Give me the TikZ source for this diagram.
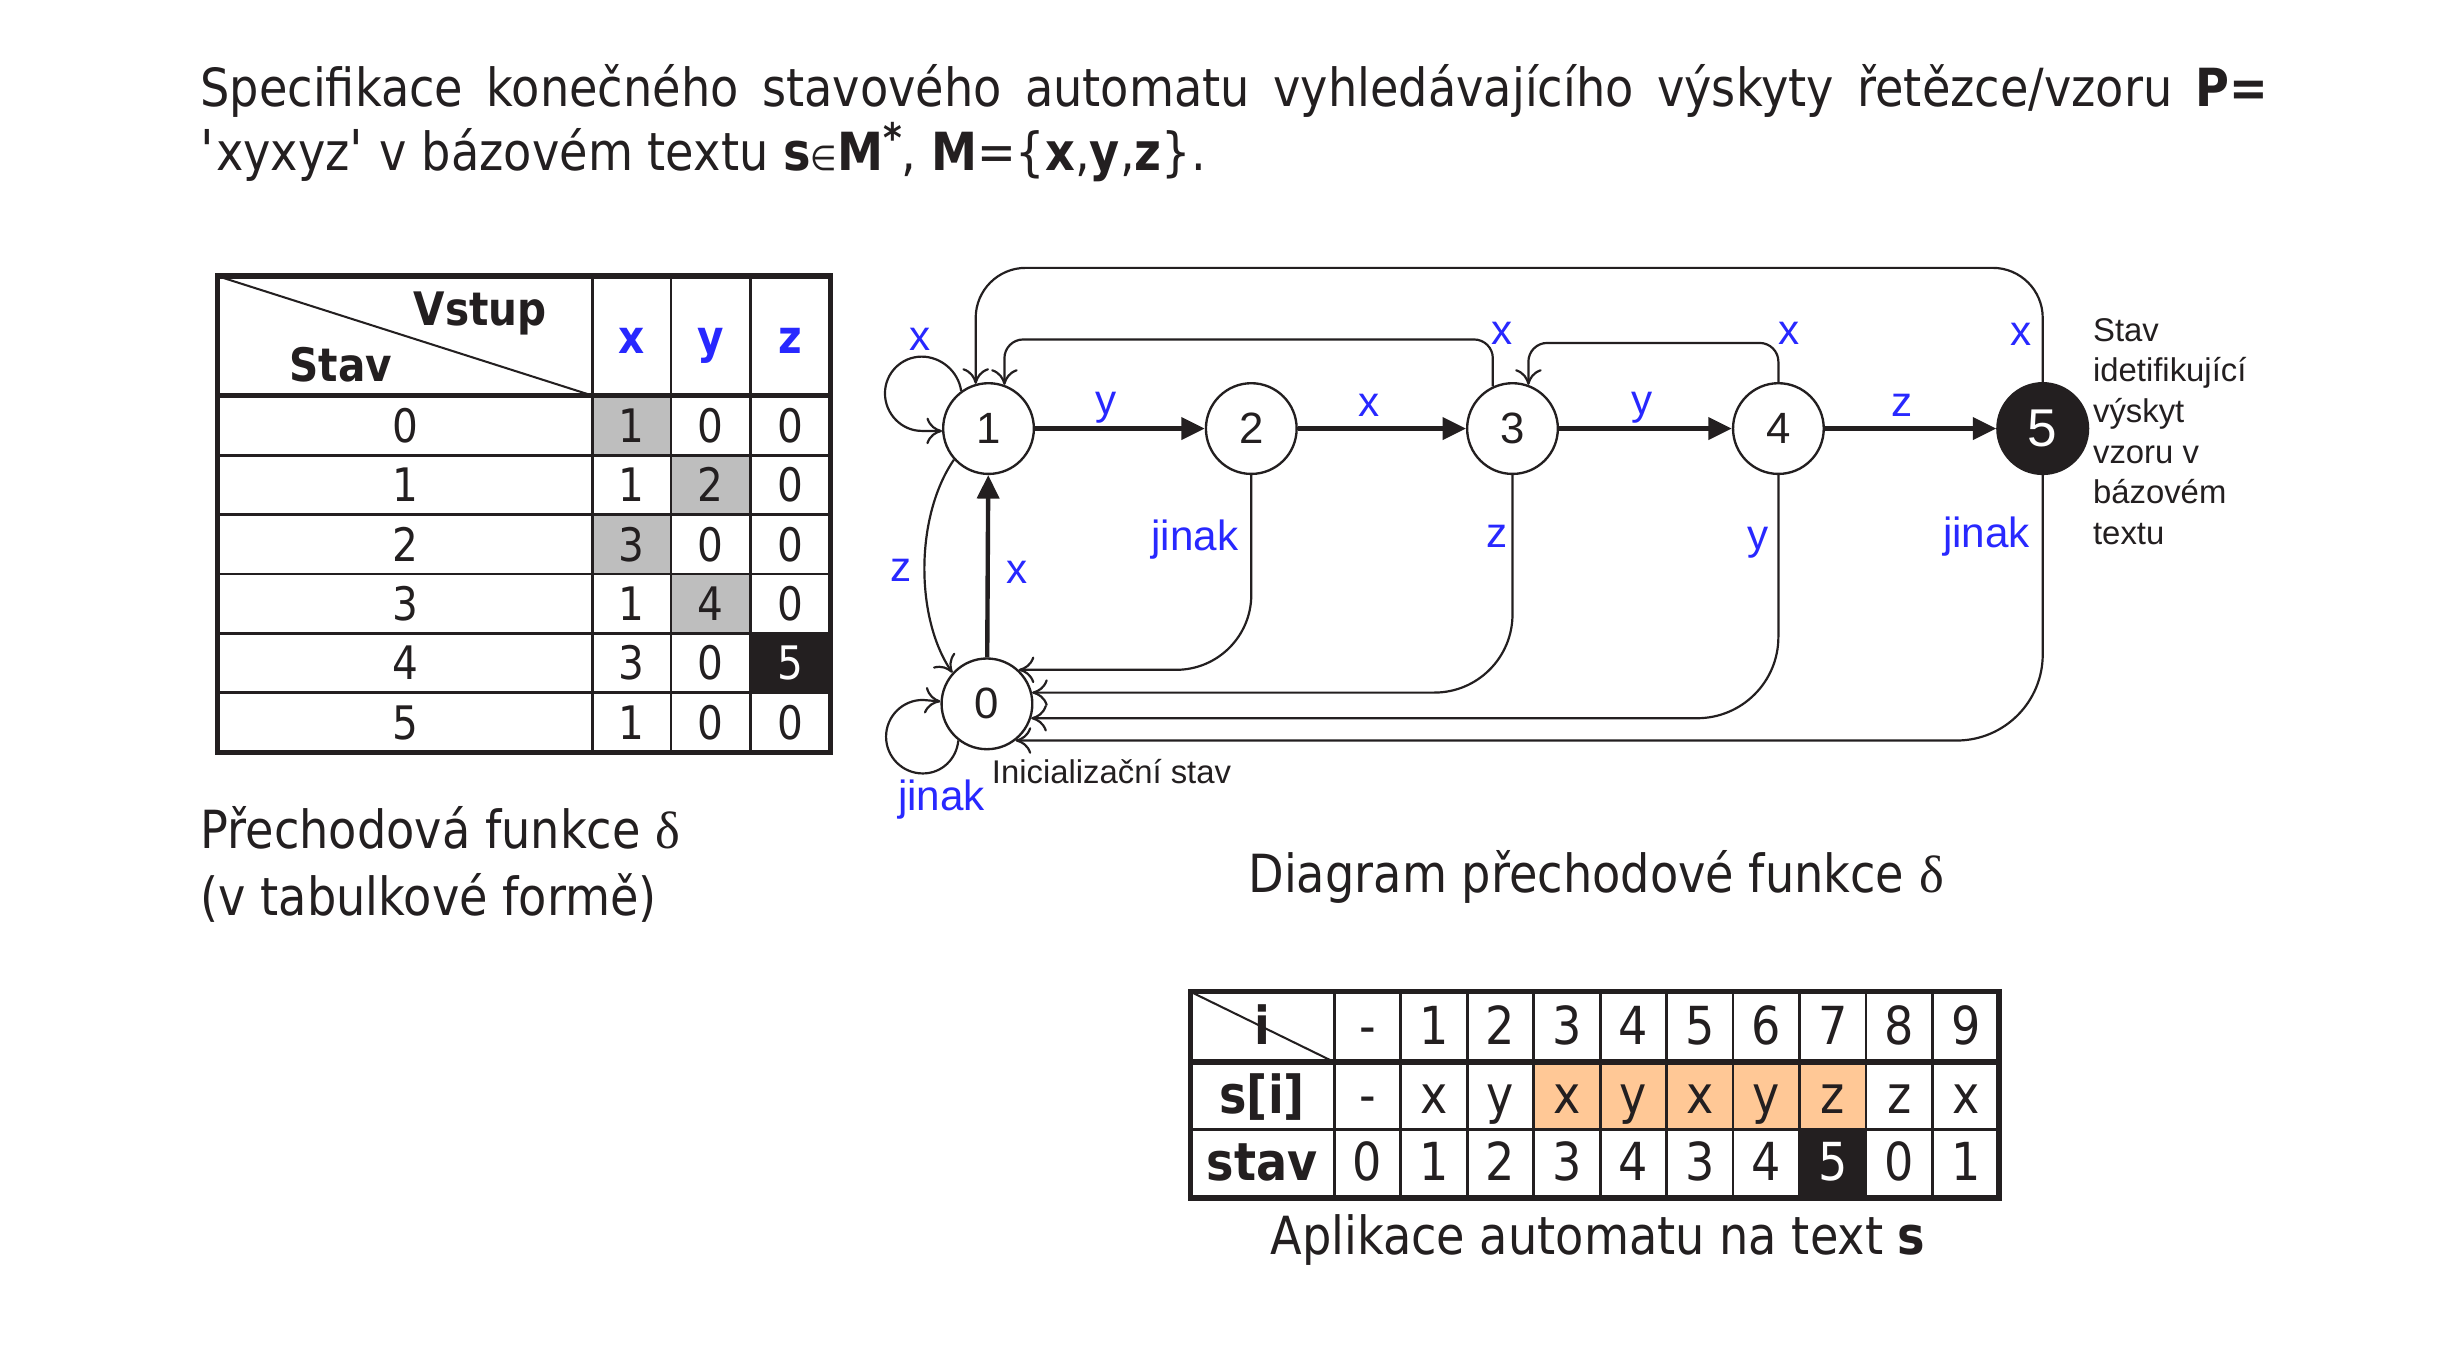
\documentclass[tikz,border=0pt]{standalone}
\usepackage{fontspec}
\setmainfont{DejaVu Sans}[FakeStretch=0.88]
\newfontfamily\arialf{Liberation Sans}
\newfontfamily\seriff{Liberation Serif}
\usetikzlibrary{arrows.meta}
\definecolor{lblue}{RGB}{40,40,255}
\definecolor{ink}{RGB}{35,31,32}
\definecolor{cellgray}{RGB}{190,190,190}
\definecolor{peach}{RGB}{255,200,150}
\tikzset{
 bigtext/.style={font=\fontsize{33.6}{42.6}\selectfont, text=ink, inner sep=0pt},
 tabtxt/.style={font=\fontsize{29.5}{30}\selectfont, text=ink, inner sep=0pt, anchor=base},
 btabtxt/.style={font=\fontsize{33.5}{34}\selectfont, text=ink, inner sep=0pt, anchor=base},
 stnode/.style={circle, draw=ink, line width=1.5pt, minimum size=58pt, inner sep=0pt, font=\arialf\fontsize{28}{28}\selectfont, text=ink},
 lbl/.style={font=\arialf\fontsize{27}{27}\selectfont, text=lblue, anchor=base, inner sep=0pt},
 note/.style={font=\arialf\fontsize{21}{26}\selectfont, text=ink, inner sep=0pt},
 thinarr/.style={draw=ink, line width=1.4pt, -{Computer Modern Rightarrow[length=10pt,width=17pt]}},
 thickarr/.style={draw=ink, line width=2.8pt, -{Triangle[length=15pt,width=14pt]}},
 outerline/.style={draw=ink, line width=3.5pt},
 innerline/.style={draw=ink, line width=1.8pt},
}
\newcommand{\primemark}{{\itshape\fontsize{36}{36}\selectfont\textquotesingle}}
\begin{document}
\begin{tikzpicture}[x=1pt,y=1pt]
\useasboundingbox[fill=white] (0,0) rectangle (1560,-864.4);

% ---------- title ----------
\node[bigtext, anchor=base west] (t1) at (128,-68.2) {\makebox[1322pt][s]{Specifikace konečného stavového automatu vyhledávajícího výskyty řetězce/vzoru \textbf{P=}}};
\node[bigtext, anchor=base west] (t2) at (128,-108.7) {\primemark xyxyz\primemark{} v bázovém textu \textbf{s}{\fontsize{22}{22}\selectfont ∈}\textbf{M}\raisebox{11pt}{\fontsize{26}{26}\selectfont\bfseries *}, \textbf{M}=\{\textbf{x},\textbf{y},\textbf{z}\}.};

% ---------- left table ----------
\fill[cellgray] (379,-253) rectangle (429,-291);
\fill[cellgray] (429,-291) rectangle (480,-329);
\fill[cellgray] (379,-329) rectangle (429,-367);
\fill[cellgray] (429,-367) rectangle (480,-405);
\fill[ink] (480,-405) rectangle (531,-443);
\foreach \yy in {291,329,367,405,443} \draw[innerline] (139,-\yy) -- (531,-\yy);
\foreach \xx in {379,429,480} \draw[innerline] (\xx,-176.5) -- (\xx,-481);
\draw[outerline] (139,-253) -- (531,-253);
\draw[ink, line width=1.3pt] (139,-176.5) -- (379,-253);
\draw[outerline] (139,-176.5) rectangle (531,-481);
\node[tabtxt, font=\fontsize{29.5}{30}\selectfont\bfseries] (hvstup) at (307,-208) {Vstup};
\node[tabtxt, font=\fontsize{29.5}{30}\selectfont\bfseries] (hstav) at (218,-244) {Stav};
\node[tabtxt, font=\fontsize{29.5}{30}\selectfont\bfseries, text=lblue] (hx) at (404,-226) {x};
\node[tabtxt, font=\fontsize{29.5}{30}\selectfont\bfseries, text=lblue] (hy) at (454.5,-226) {y};
\node[tabtxt, font=\fontsize{29.5}{30}\selectfont\bfseries, text=lblue] (hz) at (505.5,-226) {z};
\foreach \r/\a/\b/\c in {0/1/0/0,1/1/2/0,2/3/0/0,3/1/4/0,4/3/0/5,5/1/0/0} {
  \node[tabtxt] (ls\r) at (259,{-(282.7+38*\r)}) {\r};
  \node[tabtxt] (lx\r) at (404,{-(282.7+38*\r)}) {\a};
  \node[tabtxt] (ly\r) at (454.5,{-(282.7+38*\r)}) {\b};
  \node[tabtxt] (lz\r) at (505.5,{-(282.7+38*\r)}) {\ifnum\r=4 \color{white}\fi\c};
}
\node[bigtext, anchor=base west] (cap1a) at (128,-542.4) {Přechodová funkce {\seriff δ}};
\node[bigtext, anchor=base west] (cap1b) at (128,-585) {(v tabulkové formě)};

% ---------- diagram ----------
\node[stnode] (n1) at (632,-274) {1};
\node[stnode] (n2) at (800,-274) {2};
\node[stnode] (n3) at (967,-274) {3};
\node[stnode] (n4) at (1137,-274) {4};
\node[stnode, fill=ink, text=white, font=\arialf\fontsize{34}{34}\selectfont] (n5) at (1306,-274) {5};
\node[stnode] (n0) at (631,-450) {0};

\draw[thickarr] (n1) -- (n2);
\draw[thickarr] (n2) -- (n3);
\draw[thickarr] (n3) -- (n4);
\draw[thickarr] (n4) -- (n5);
\draw[thickarr] (n0) -- (n1);

% self loops
\draw[thinarr] (n1.126) .. controls (612.7,-237.3) and (601.5,-228) .. (589.3,-228)
   .. controls (576.3,-228) and (565.8,-238.5) .. (565.8,-251.5)
   .. controls (565.8,-264.5) and (576.3,-275.5) .. (589.3,-275.5) -- (n1.183);
\draw[thinarr] (n0.232) .. controls (611.6,-485.2) and (602.2,-494.5) .. (590,-494.5)
   .. controls (577,-494.5) and (566.5,-484) .. (566.5,-471)
   .. controls (566.5,-458) and (577,-447.5) .. (590,-447.5) -- (n0.177);
\draw[thinarr] (n1.222) .. controls (585,-330) and (585,-395) .. (n0.138);
\draw[thinarr, rounded corners=12pt] (n3.115) -- ++(0,30) -| (n1.70);
\draw[thinarr, rounded corners=12pt] (n4.north) -- ++(0,25) -| (n3.70);
\draw[thinarr, rounded corners=32pt] (n5.north) -- ++(0,73) -| (n1.106);
\draw[thinarr, rounded corners=48pt] (n2.south) |- (n0.47);
\draw[thinarr, rounded corners=50pt] (n3.south) |- (n0.14);
\draw[thinarr, rounded corners=52pt] (n4.south) |- (n0.342);
\draw[thinarr, rounded corners=55pt] (n5.south) |- (n0.308);

\node[lbl] (l11) at (588,-224) {x};
\node[lbl] (l12) at (707,-265) {y};
\node[lbl] (l23) at (875,-266) {x};
\node[lbl] (l34) at (1050,-265) {y};
\node[lbl] (l45) at (1216,-266) {z};
\node[lbl] (l31) at (960,-220) {x};
\node[lbl] (l43) at (1144,-220) {x};
\node[lbl] (l51) at (1292,-221) {x};
\node[lbl] (l10) at (576,-372) {z};
\node[lbl] (l01) at (650,-373) {x};
\node[lbl] (l20) at (764,-352) {jinak};
\node[lbl] (l30) at (957,-350) {z};
\node[lbl] (l40) at (1124,-351) {y};
\node[lbl] (l50) at (1270,-350) {jinak};
\node[lbl] (l00) at (602,-518) {jinak};
\node[note, anchor=base west] (init) at (634,-501) {Inicializační stav};
\node[note, anchor=north west, align=left] (acc) at (1338,-203.3) {Stav\\idetifikující\\výskyt\\vzoru v\\bázovém\\textu};
\node[bigtext, anchor=base west] (cap2) at (798,-570.8) {Diagram přechodové funkce {\seriff δ}};

% ---------- bottom table ----------
\fill[peach] ({853+42.5*3},-679) rectangle ({853+42.5*8},-722);
\fill[ink] ({853+42.5*7},-722) rectangle ({853+42.5*8},-766);
\foreach \k in {0,...,9} \draw[innerline] ({853+42.5*\k},-634) -- ({853+42.5*\k},-766);
\draw[innerline] (761,-722) -- (1278,-722);
\draw[outerline] (761,-679) -- (1278,-679);
\draw[ink, line width=1.3pt] (761,-634) -- (853,-679);
\draw[outerline] (761,-634) rectangle (1278,-766);
\node[btabtxt, font=\fontsize{33.5}{34}\selectfont\bfseries] (bi) at (807,-668) {i};
\node[btabtxt, font=\fontsize{33.5}{34}\selectfont\bfseries] (bs) at (807,-712) {s[i]};
\node[btabtxt, font=\fontsize{33.5}{34}\selectfont\bfseries] (bst) at (807,-755) {stav};
\foreach \v [count=\k from 0] in {-,1,2,3,4,5,6,7,8,9}
  \node[btabtxt] (bh\k) at ({874.25+42.5*\k},-668) {\v};
\foreach \v [count=\k from 0] in {-,x,y,x,y,x,y,z,z,x}
  \node[btabtxt] (bv\k) at ({874.25+42.5*\k},-712) {\v};
\foreach \v [count=\k from 0] in {0,1,2,3,4,3,4,5,0,1}
  \node[btabtxt] (bq\k) at ({874.25+42.5*\k},-755) {\ifnum\k=7 \color{white}\fi\v};
\node[bigtext, anchor=base west] (cap3) at (812,-801.8) {Aplikace automatu na text \textbf{s}};
\end{tikzpicture}
\end{document}
